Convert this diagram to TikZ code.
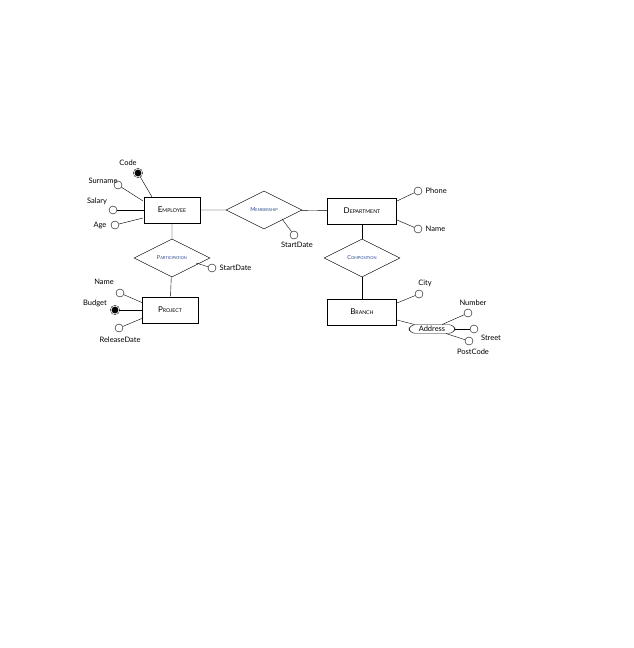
\documentclass[tikz,border=0pt]{standalone}
\usepackage{fontspec}
\setmainfont{Lato}
\usetikzlibrary{shapes.geometric, positioning}
\definecolor{relblue}{RGB}{40, 70, 140}
\newcommand{\entsc}[2]{#1{\fontsize{5.2}{6}\selectfont #2}}
\newcommand{\relsc}[2]{{\fontsize{5.5}{6}\selectfont #1}{\fontsize{4}{5}\selectfont #2}}
\tikzset{
    entity/.style={rectangle, draw, thick, minimum width=56pt, minimum height=26pt, font=\fontsize{8}{9}\selectfont},
    relation/.style={diamond, draw, aspect=2.1, inner sep=0pt, minimum width=76pt, minimum height=38pt, text=relblue},
    attr/.style={circle, draw, minimum size=8pt, inner sep=0pt, fill=white},
    keyattr/.style={attr, fill=black, double, double distance=0.8pt},
    compattr/.style={rectangle, rounded corners=6pt, draw, font=\fontsize{7.5}{9}\selectfont, inner sep=1.5pt, minimum width=46pt},
    lbl/.style={font=\fontsize{7.5}{9}\selectfont},
    link/.style={thin}
}
\begin{document}
\begin{tikzpicture}[x=1pt, y=-1pt]
    \useasboundingbox (0,0) rectangle (634,648);
    % entities
    \node[entity] (employee) at (172,210) {\entsc{E}{MPLOYEE}};
    \node[entity, minimum width=69pt] (department) at (362,211) {\entsc{D}{EPARTMENT}};
    \node[entity] (project) at (170,310) {\entsc{P}{ROJECT}};
    \node[entity, minimum width=69pt] (branch) at (362,312) {\entsc{B}{RANCH}};
    % relationships
    \node[relation] (membership) at (264,210) {\relsc{M}{EMBERSHIP}};
    \node[relation] (participation) at (172,258) {\relsc{P}{ARTICIPATION}};
    \node[relation] (composition) at (362,258) {\relsc{C}{OMPOSITION}};
    \draw[link] (employee) -- (membership) -- (department);
    \draw[link] (employee) -- (participation) -- (project);
    \draw[link] (department) -- (composition) -- (branch);

    % employee attributes
    \node[keyattr] (code) at (138,173) {};
    \node[attr] (surname) at (118,185) {};
    \node[attr] (salary) at (113,210) {};
    \node[attr] (age) at (115,225) {};
    \node[lbl] at (128,163) {Code};
    \node[lbl] at (103,181) {Surname};
    \node[lbl] at (97,201) {Salary};
    \node[lbl] at (100,225) {Age};
    \draw[link] (code) -- (152,197);
    \draw[link] (surname) -- (143,201);
    \draw[link] (salary) -- (employee);
    \draw[link] (age) -- (143,218);

    % relationship attributes
    \node[attr] (mstart) at (294,235) {};
    \node[lbl] at (297,245) {StartDate};
    \draw[link] (mstart) -- (282,219);
    \node[attr] (pstart) at (212,268) {};
    \node[lbl, right=0pt of pstart] {StartDate};
    \draw[link] (pstart) -- (196,263);

    % department attributes
    \node[attr] (phone) at (418,191) {};
    \node[attr] (dname) at (418,229) {};
    \node[lbl, right=0pt of phone] {Phone};
    \node[lbl, right=0pt of dname] {Name};
    \draw[link] (phone) -- (397,201);
    \draw[link] (dname) -- (397,220);

    % project attributes
    \node[attr] (pname) at (120,293) {};
    \node[keyattr] (budget) at (115,310) {};
    \node[attr] (release) at (119,328) {};
    \node[lbl] at (104,282) {Name};
    \node[lbl] at (95,303) {Budget};
    \node[lbl] at (120,340) {ReleaseDate};
    \draw[link] (pname) -- (143,303);
    \draw[link] (budget) -- (project);
    \draw[link] (release) -- (143,318);

    % branch attributes
    \node[attr] (city) at (419,294) {};
    \node[lbl] at (425,283) {City};
    \draw[link] (city) -- (397,303);
    \node[compattr] (address) at (432,329) {Address};
    \draw[link] (address) -- (397,320);
    \node[attr] (number) at (468,313) {};
    \node[attr] (street) at (474,329) {};
    \node[attr] (postcode) at (469,341) {};
    \node[lbl] at (473,303) {Number};
    \node[lbl] at (491,338) {Street};
    \node[lbl] at (473,352) {PostCode};
    \draw[link] (address) -- (number);
    \draw[link] (address) -- (street);
    \draw[link] (address) -- (postcode);
\end{tikzpicture}
\end{document}
